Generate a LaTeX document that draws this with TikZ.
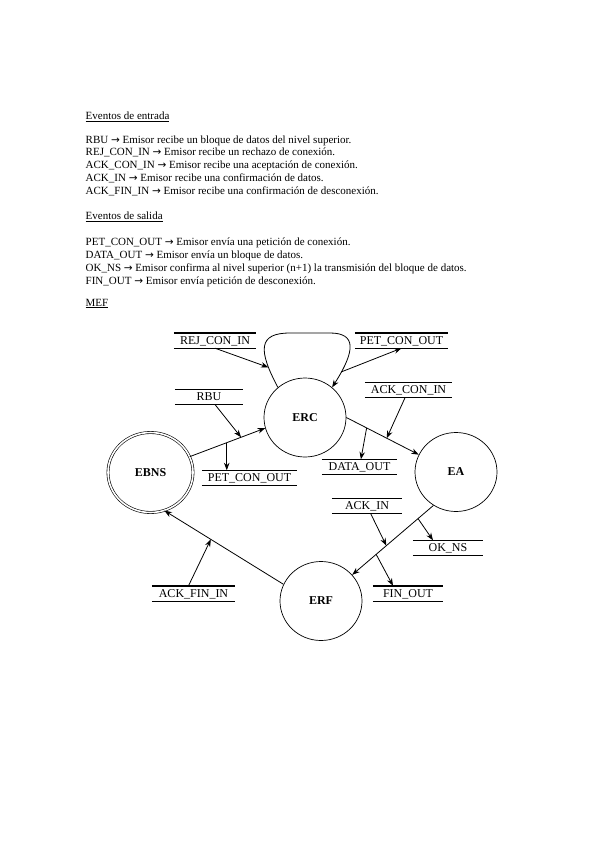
\documentclass[tikz,border=0pt]{standalone}
\usepackage{fontspec}
\setmainfont{Liberation Serif}
\newfontfamily\arrowfont{DejaVu Sans}
\newcommand{\myarr}{{\arrowfont\fontsize{10.5}{13}\selectfont →}}
\usetikzlibrary{arrows.meta,shapes.geometric}
\begin{document}
\begin{tikzpicture}[x=1pt,y=-1pt,
  hdr/.style={anchor=base west, inner sep=0, font=\fontsize{11}{13}\selectfont},
  st/.style={ellipse, draw, line width=0.7pt, minimum width=82pt, minimum height=79pt, inner sep=0, font=\fontsize{12}{14}\selectfont\bfseries},
  lbl/.style={inner xsep=0, inner ysep=2pt, text height=9pt, text depth=2pt, font=\fontsize{12}{14}\selectfont},
  bar/.style={line width=1.4pt},
  arr/.style={line width=0.8pt, -{Stealth[length=7.5pt,width=5.5pt]}}]
\path[use as bounding box] (0,0) rectangle (599,848);

% header text
\node[hdr] (h1) at (85.5,120) {\underline{Eventos de entrada}};
\node[hdr] (t1) at (85.5,143) {RBU \myarr{} Emisor recibe un bloque de datos del nivel superior.};
\node[hdr] (t2) at (85.5,155.8) {REJ\_CON\_IN \myarr{} Emisor recibe un rechazo de conexión.};
\node[hdr] (t3) at (85.5,168.6) {ACK\_CON\_IN \myarr{} Emisor recibe una aceptación de conexión.};
\node[hdr] (t4) at (85.5,181.4) {ACK\_IN \myarr{} Emisor recibe una confirmación de datos.};
\node[hdr] (t5) at (85.5,194.2) {ACK\_FIN\_IN \myarr{} Emisor recibe una confirmación de desconexión.};
\node[hdr] (h2) at (85.5,219.5) {\underline{Eventos de salida}};
\node[hdr] (u1) at (85.5,245.5) {PET\_CON\_OUT \myarr{} Emisor envía una petición de conexión.};
\node[hdr] (u2) at (85.5,258.3) {DATA\_OUT \myarr{} Emisor envía un bloque de datos.};
\node[hdr] (u3) at (85.5,271.1) {OK\_NS \myarr{} Emisor confirma al nivel superior (n+1) la transmisión del bloque de datos.};
\node[hdr] (u4) at (85.5,284) {FIN\_OUT \myarr{} Emisor envía petición de desconexión.};
\node[hdr] (h3) at (85.5,306) {\underline{MEF}};

% states
\node[st, minimum width=85pt, minimum height=80pt, double, double distance=1.6pt, line width=0.6pt] (ebns) at (150.5,472.5) {EBNS};
\node[st] (erc) at (305,417.5) {ERC};
\node[st] (ea) at (456,472) {EA};
\node[st] (erf) at (321,601) {ERF};

% event labels
\node[lbl, minimum width=82pt] (rej) at (215,340.5) {REJ\_CON\_IN};
\node[lbl, minimum width=93pt] (pet1) at (401.5,340.5) {PET\_CON\_OUT};
\node[lbl, minimum width=68pt] (rbu) at (209,397) {RBU};
\node[lbl, minimum width=87pt] (ackcon) at (408.5,390) {ACK\_CON\_IN};
\node[lbl, minimum width=75pt] (data) at (359.5,467) {DATA\_OUT};
\node[lbl, minimum width=95pt] (pet2) at (249.5,478) {PET\_CON\_OUT};
\node[lbl, minimum width=70pt] (ackin) at (367,506) {ACK\_IN};
\node[lbl, minimum width=70pt] (okns) at (448,548) {OK\_NS};
\node[lbl, minimum width=83pt] (ackfin) at (193.5,593.5) {ACK\_FIN\_IN};
\node[lbl, minimum width=70pt] (finout) at (408,593.5) {FIN\_OUT};
\foreach \n in {rej,pet1,rbu,ackcon,data,pet2,ackin,okns,ackfin,finout}
  \draw[bar] (\n.north west) -- (\n.north east) (\n.south west) -- (\n.south east);

% self loop on ERC
\coordinate (c1) at (258,350);
\coordinate (c2) at (258,333);
\coordinate (c3) at (290,333);
\coordinate (c4) at (330,333);
\coordinate (c5) at (356,333);
\coordinate (c6) at (356,350);
\draw[arr] (erc.132) .. controls (c1) and (c2) .. (c3) coordinate[pos=0.2] (lp1)
  -- (c4) .. controls (c5) and (c6) .. (erc.48) coordinate[pos=0.85] (lp2);

% transitions
\draw[arr] (ebns.22) -- coordinate[pos=0.49] (m1a) coordinate[pos=0.68] (m1b) (erc.195);
\draw[arr] (erc.0) -- coordinate[pos=0.28] (m2a) coordinate[pos=0.557] (m2b) (ea.155);
\draw[arr] (ea.236) -- coordinate[pos=0.19] (m3a) coordinate[pos=0.58] (m3b) coordinate[pos=0.705] (m3c) (erf.40);
\draw[arr] (erf.156) -- coordinate[pos=0.61] (m4) (ebns.290);

% event arrows
\draw[arr] (rbu) -- (m1b);
\draw[arr] (m1a) -- (m1a |- pet2.north);
\draw[arr] (rej.south) -- (lp1);
\draw[arr] (lp2) -- (pet1.south);
\draw[arr] (ackcon) -- (m2b);
\draw[arr] (m2a) -- (data);
\draw[arr] (ackin) -- (m3b);
\draw[arr] (m3a) -- ([xshift=-15pt]okns.north);
\draw[arr] (m3c) -- ([xshift=-15pt]finout.north);
\draw[arr] ([xshift=-5pt]ackfin.north) -- (m4);
\end{tikzpicture}
\end{document}
